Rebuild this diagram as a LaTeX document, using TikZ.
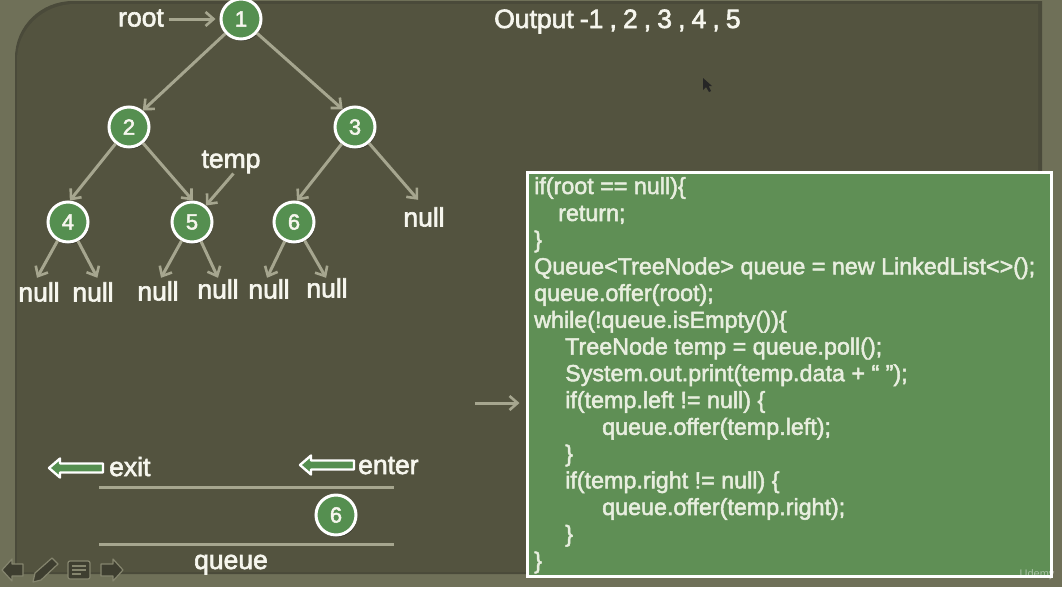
\documentclass[tikz,border=0pt]{standalone}
\usepackage{fontspec}
\setmainfont{Liberation Sans}
\usetikzlibrary{arrows.meta,shadows,calc}
\definecolor{frameC}{HTML}{6F7058}
\definecolor{innerC}{HTML}{53533F}
\definecolor{edgeC}{HTML}{4A4A3A}
\definecolor{arrowC}{HTML}{A6A68F}
\definecolor{greenC}{HTML}{558F50}
\definecolor{boxC}{HTML}{5F8F55}
\definecolor{txtC}{HTML}{F6F6EE}
\definecolor{codeC}{HTML}{E8EEDF}
\definecolor{iconC}{HTML}{3E3E30}
\definecolor{iconE}{HTML}{85856E}
\tikzset{
  heavy/.style={execute at begin node={\special{pdf:code 2 Tr #1 w}},execute at end node={\special{pdf:code 0 Tr}}},
  conn/.style={draw=arrowC,line width=3pt,-{Straight Barb[length=8pt,width=14pt,line width=2.6pt]}},
  treenode/.style={circle,draw=white,line width=3pt,fill=greenC,minimum size=40pt,inner sep=0pt,
    text=txtC,font=\fontsize{22}{24}\selectfont,heavy=0.5,
    drop shadow={shadow xshift=1pt,shadow yshift=-2pt,opacity=.4,fill=black}},
  lbl/.style={text=txtC,inner sep=0pt,font=\fontsize{26.5}{30}\selectfont,heavy=0.6},
  nullnode/.style={lbl,minimum height=#1,minimum width=40pt},
  codeline/.style={anchor=base west,inner sep=0pt,text=codeC,font=\fontsize{23.3}{26}\selectfont,heavy=0.5},
  codebox/.style={rectangle,draw=white,line width=3pt,fill=boxC,minimum width=524pt,minimum height=404pt,inner sep=0pt,
    drop shadow={shadow xshift=1pt,shadow yshift=-2pt,opacity=.35,fill=black}},
  rail/.style={draw=arrowC,line width=3pt},
  blockarrow/.style={draw=white,line width=2.4pt,fill=greenC,line join=round},
  navicon/.style={draw=iconE,line width=1.2pt,fill=iconC,line join=round}
}
\begin{document}
\begin{tikzpicture}[x=1pt,y=-1pt]
\useasboundingbox (0,0) rectangle (1062,592);
\fill[white] (0,0) rectangle (1062,592);
\fill[frameC] (0,0) rectangle (1062,587);
\fill[edgeC] (15,574) -- (15,58) .. controls (15,26) and (41,1) .. (73,1) -- (1042,1) -- (1042,574) -- cycle;
\fill[innerC] (17,572) -- (17,60) .. controls (17,29) and (43,4) .. (75,4) -- (1038,4) -- (1038,572) -- cycle;
% tree nodes
\node[treenode] (n1) at (241,19) {1};
\node[treenode] (n2) at (129,127) {2};
\node[treenode] (n3) at (355,127) {3};
\node[treenode] (n4) at (68,222) {4};
\node[treenode] (n5) at (192,222) {5};
\node[treenode] (n6) at (294,222) {6};
\node[treenode] (q6) at (336,515) {6};
% labels
\node[lbl] (root) at (141,18) {root};
\node[lbl] (temp) at (231,162) {temp};
\node[nullnode=28pt] (na) at (39,292) {null};
\node[nullnode=28pt] (nb) at (93,292) {null};
\node[nullnode=26pt] (nc) at (158,291) {null};
\node[nullnode=22pt] (nd) at (218,289) {null};
\node[nullnode=22pt] (ne) at (269,289) {null};
\node[nullnode=20pt] (nf) at (327,288) {null};
\node[nullnode=34pt] (ng) at (424,217) {null};
\node[lbl,anchor=base west] (output) at (494,28) {\spaceskip=6.1pt\relax Output -1 , 2 , 3 , 4 , 5};
\node[lbl,anchor=base west] (exit) at (109,476) {exit};
\node[lbl,anchor=base west] (enter) at (358,474) {enter};
\node[lbl,anchor=base] (queue) at (231,569) {queue};
% connectors
\draw[conn,shorten >=4pt] (root.east) ++(5,1) coordinate (rs) (rs) -- (n1);
\draw[conn] (n1) -- (n2.50);
\draw[conn] (n1) -- (n3.125);
\draw[conn] (n2) -- (n4.85);
\draw[conn] (n2) -- (n5.88);
\draw[conn] (n3) -- (n6.82);
\draw[conn] (n3) -- (ng.109);
\draw[conn] (n4) -- (na.98);
\draw[conn] (n4) -- (nb.73);
\draw[conn] (n5) -- (nc.77);
\draw[conn] (n5) -- (nd.90);
\draw[conn] (n6) -- (ne.100);
\draw[conn] (n6) -- (nf.95);
\draw[conn] (temp.-78) -- (n5.50);
% rails and block arrows
\coordinate (railTL) at (99,487);
\coordinate (railTR) at (394,487);
\coordinate (railBL) at (99,544);
\coordinate (railBR) at (394,544);
\draw[rail] (railTL) -- (railTR);
\draw[rail] (railBL) -- (railBR);
\draw[blockarrow] (49,468) -- (60,458.5) -- (60,463.5) -- (103,463.5) -- (103,472.5) -- (60,472.5) -- (60,477.5) -- cycle;
\draw[blockarrow] (300,465) -- (311,455.5) -- (311,460.5) -- (354,460.5) -- (354,469.5) -- (311,469.5) -- (311,474.5) -- cycle;
% code box
\node[codebox] (code) at (789,374) {};
\coordinate (cs) at (475,403);
\draw[conn,shorten >=6pt] (cs) -- (cs -| code.west);
\node[codeline] (c1) at (534,194) {if(root == null)\{};
\node[codeline] (c2) at (558,221) {return;};
\node[codeline] (c3) at (534,247.5) {\}};
\node[codeline] (c4) at (534,274.3) {Queue<TreeNode> queue = new LinkedList<>();};
\node[codeline] (c5) at (534,301) {queue.offer(root);};
\node[codeline] (c6) at (534,327.8) {while(!queue.isEmpty())\{};
\node[codeline] (c7) at (565,354.5) {TreeNode temp = queue.poll();};
\node[codeline] (c8) at (565,381.2) {System.out.print(temp.data + “ ”);};
\node[codeline] (c9) at (565,408) {if(temp.left != null) \{};
\node[codeline] (c10) at (602,434.8) {queue.offer(temp.left);};
\node[codeline] (c11) at (565,461.5) {\}};
\node[codeline] (c12) at (565,488.3) {if(temp.right != null) \{};
\node[codeline] (c13) at (602,515) {queue.offer(temp.right);};
\node[codeline] (c14) at (565,541.8) {\}};
\node[codeline] (c15) at (534,568.5) {\}};
% navigation icons
\draw[navicon] (2,570) -- (12,559) -- (12,564) -- (23,564) -- (23,576) -- (12,576) -- (12,581) -- cycle;
\draw[navicon] (33,582) -- (35,573) -- (52,558) -- (58,564) -- (41,580) -- cycle;
\draw[navicon,rounded corners=2pt] (68,561) rectangle (90,579);
\draw[draw=iconE,line width=1.2pt] (72,566) -- (86,566) (72,570) -- (86,570) (72,574) -- (81,574);
\draw[navicon] (123,570) -- (113,559) -- (113,564) -- (101,564) -- (101,576) -- (113,576) -- (113,581) -- cycle;
% cursor
\fill[black!85] (703,78) -- (703,90) -- (706,87) -- (709,92) -- (711,91) -- (708.5,86) -- (712,86) -- cycle;
% watermark
\node[text=white,opacity=.45,inner sep=0pt,font=\fontsize{11}{12}\selectfont] (wm) at (1037,575) {Udemy};
\end{tikzpicture}
\end{document}
